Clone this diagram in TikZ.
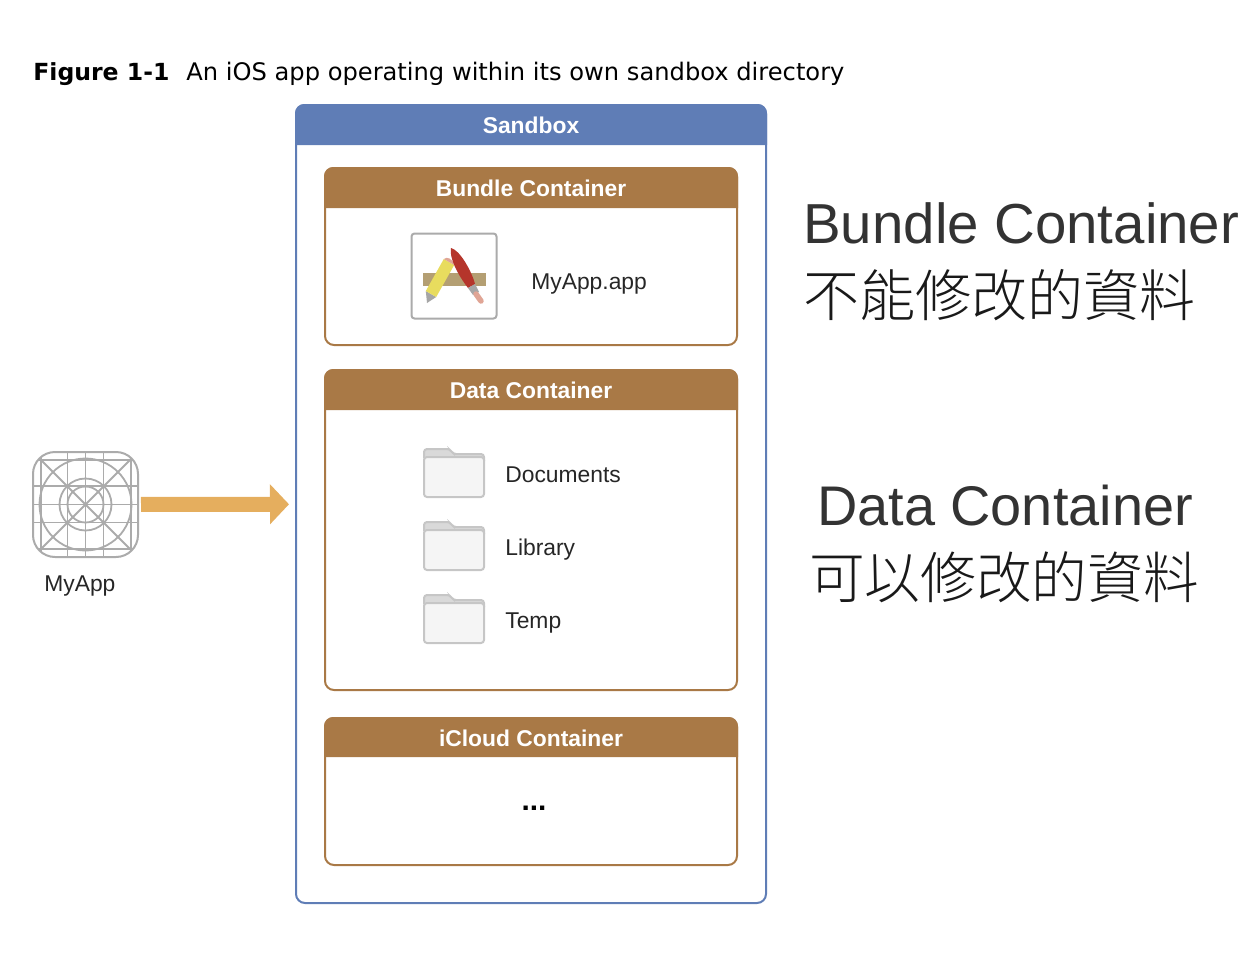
\documentclass[tikz,border=0pt]{standalone}
\usepackage{fontspec}
\setmainfont{Liberation Sans}
\newfontfamily\cjkfont{Noto Sans CJK TC Light}
\newfontfamily\capfont{DejaVu Sans}
\usetikzlibrary{arrows.meta}
\definecolor{sandboxblue}{HTML}{5F7DB6}
\definecolor{panelbrown}{HTML}{A97946}
\definecolor{arroworange}{HTML}{E5AE5E}
\definecolor{icongray}{HTML}{ABABAB}
\definecolor{barbrown}{HTML}{B49F73}
\definecolor{pencilyellow}{HTML}{E8DC5E}
\definecolor{brushred}{HTML}{B5352B}
\definecolor{handlepink}{HTML}{E0A595}
\def\px{0.02cm}
\tikzset{
	sandboxbox/.style={draw=sandboxblue,line width=2*\px,rounded corners=9*\px,inner sep=0},
	panelbox/.style={draw=panelbrown,line width=2*\px,rounded corners=9*\px,inner sep=0},
	headtext/.style={text=white,font=\fontsize{13}{15}\selectfont\bfseries,anchor=base},
	itemtext/.style={text=black!85,font=\fontsize{13}{15}\selectfont,anchor=base west,inner sep=0},
	bigtext/.style={text=black!80,font=\fontsize{32.1}{36}\selectfont,anchor=base,inner sep=0},
	bigcjk/.style={text=black!90,font=\fontsize{31.9}{36}\cjkfont,anchor=base,inner sep=0},
	gridline/.style={draw=icongray,line width=1.8*\px},
}
\begin{document}
\begin{tikzpicture}[x=0.02cm,y=-0.02cm]
	\useasboundingbox (0,0) rectangle (1258,960);
	\node[anchor=base west,inner sep=0,font=\fontsize{13.4}{15}\capfont\bfseries] (figlabel) at (33,80) {Figure 1-1};
	\node[anchor=base west,inner sep=0,font=\fontsize{13.75}{15}\capfont] (figcaption) at (186,80) {An iOS app operating within its own sandbox directory};
	% sandbox
	\node[sandboxbox,minimum width=470*\px,minimum height=798*\px] (sandbox) at (531,504) {};
	\fill[sandboxblue,rounded corners=9*\px] (295,145) -- (295,104) -- (767,104) [sharp corners] -- (767,145) -- cycle;
	\node[headtext] (sandboxtitle) at (531,133) {Sandbox};
	% containers
	\foreach \name/\top/\bot/\hbot/\title in {bundle/168/345/208/Bundle Container,data/370/690/410/Data Container,icloud/718/865/757/iCloud Container}{
		\node[panelbox,minimum width=412*\px,minimum height={(\bot-\top)*\px}] (\name) at (531,{(\top+\bot)/2}) {};
		\fill[panelbrown,rounded corners=9*\px] (324,\hbot) -- (324,\top-1) -- (738,\top-1) [sharp corners] -- (738,\hbot) -- cycle;
		\node[headtext] (\name title) at (531,\top+28) {\title};
	}
	% app icon
	\node[draw=icongray,line width=2*\px,rounded corners=22*\px,minimum size=105*\px,inner sep=0] (appicon) at (85.5,504.5) {};
	\begin{scope}
		\clip[rounded corners=22*\px] (33,452) rectangle (138,557);
		\foreach \k in {41,67.5,85.5,103.5,131}{
			\draw[gridline] (\k,452) -- (\k,557);
		}
		\foreach \k in {460,486,504.5,522.5,549}{
			\draw[gridline] (33,\k) -- (138,\k);
		}
		\draw[gridline] (33,452) -- (138,557);
		\draw[gridline] (138,452) -- (33,557);
	\end{scope}
	\foreach \r in {46,26,18}{
		\draw[gridline] (85.5,504.5) circle[radius=\r*\px];
	}
	\node[itemtext] (applabel) at (44,591) {MyApp};
	\draw[arroworange,line width=15*\px,-{Triangle[length=19*\px,width=39*\px]},shorten <=2*\px,shorten >=6*\px] (appicon) -- (sandbox);
	% app bundle icon
	\node[draw=icongray,line width=2*\px,rounded corners=3*\px,minimum size=85*\px,inner sep=0,fill=white] (bundleicon) at (454,276) {};
	\fill[barbrown] (423,273) rectangle (486,286);
	\fill[gray!70] (427,303) -- (425.8,291) -- (436.2,297) -- cycle;
	\fill[pencilyellow] (425.8,291) -- (443.8,259) -- (454.2,265) -- (436.2,297) -- cycle;
	\fill[handlepink] (443.8,259) -- (454.2,265) .. controls (453,259) and (447,256) .. (443.8,259);
	\fill[brushred] (451,248) .. controls (460,250) and (472,272) .. (475,284) -- (468,288) .. controls (458,275) and (449,258) .. (451,248);
	\fill[gray!70] (468,288) -- (475,284) -- (479,292) -- (473,295) -- cycle;
	\draw[handlepink,line width=5.5*\px,line cap=round] (476,294) -- (481,301);
	\node[itemtext] (bundleapp) at (531,289) {MyApp.app};
	% folders
	\foreach \name/\y/\label in {documents/474/Documents,library/547/Library,temp/620/Temp}{
		\begin{scope}[shift={(0,\y)}]
			\draw[fill=gray!30,draw=gray!45,line width=2*\px,rounded corners=3*\px] (424,-14) -- (424,-25) -- (450,-25) -- (453,-20) -- (484,-20) -- (484,-10) -- cycle;
			\draw[fill=gray!8,draw=gray!45,line width=2*\px,rounded corners=3*\px] (424,-17) -- (484,-17) -- (484,23) -- (424,23) -- cycle;
		\end{scope}
		\node[itemtext] (\name) at (505,\y+8) {\label};
	}
	\node[anchor=base,inner sep=0,font=\fontsize{17}{20}\selectfont\bfseries] (icloudmore) at (534,810) {...};
	% notes
	\node[bigtext,anchor=base west] (bundlenote) at (803,243) {Bundle Container};
	\node[bigcjk,anchor=base west] (bundlecjk) at (803,316) {不能修改的資料};
	\node[bigtext,font=\fontsize{31.8}{36}\selectfont] (datanote) at (1005,525) {Data Container};
	\node[bigcjk,font=\fontsize{31.7}{36}\cjkfont] (datacjk) at (1004,598) {可以修改的資料};
\end{tikzpicture}
\end{document}
